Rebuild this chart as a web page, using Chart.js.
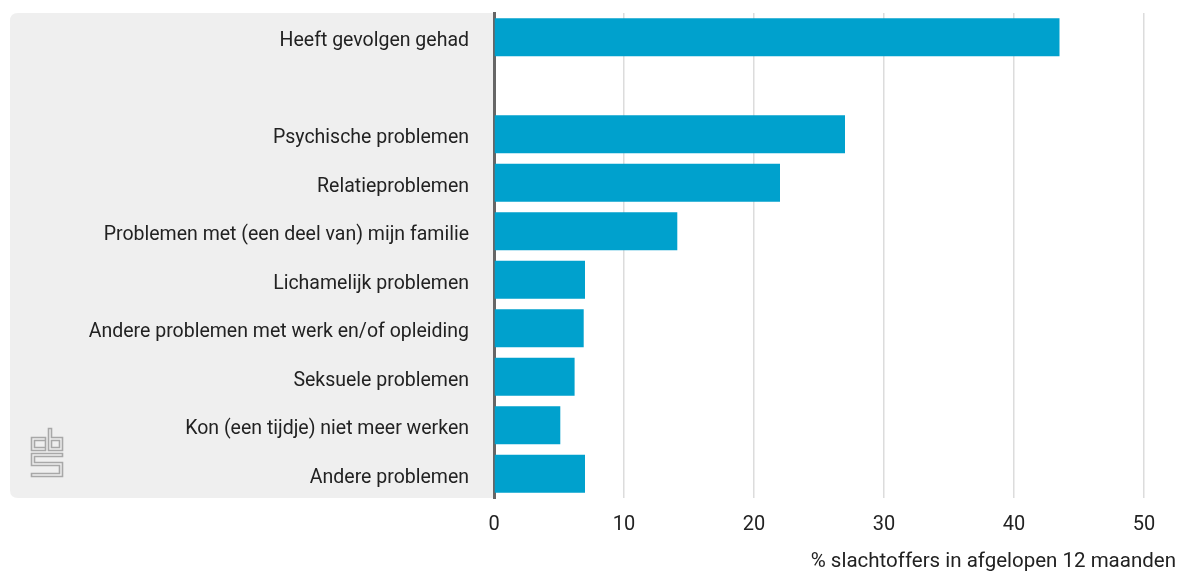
<!DOCTYPE html>
<html>
<head>
<meta charset="utf-8">
<script src="https://cdn.jsdelivr.net/npm/chart.js@4/dist/chart.umd.min.js"></script>
<style>
html,body{margin:0;padding:0;background:#fff;}
#wrap{width:1178px;height:572px;position:relative;}
</style>
</head>
<body>
<div id="wrap"><canvas id="c" width="1178" height="572"></canvas></div>
<script>
const categories = [
  'Heeft gevolgen gehad',
  '',
  'Psychische problemen',
  'Relatieproblemen',
  'Problemen met (een deel van) mijn familie',
  'Lichamelijk problemen',
  'Andere problemen met werk en/of opleiding',
  'Seksuele problemen',
  'Kon (een tijdje) niet meer werken',
  'Andere problemen'
];
const values = [43.5, null, 27.0, 22.0, 14.1, 7.0, 6.9, 6.2, 5.1, 7.0];
const xTicks = [0, 10, 20, 30, 40, 50];
const xTitle = '% slachtoffers in afgelopen 12 maanden';

const FONT = 'Roboto, sans-serif';

const panelPlugin = {
  id: 'panel',
  beforeDraw(chart) {
    const ctx = chart.ctx, a = chart.chartArea;
    const x0 = 10, x1 = a.left, y0 = a.top, y1 = a.bottom, r = 8;
    ctx.save();
    ctx.fillStyle = '#efefef';
    ctx.beginPath();
    ctx.moveTo(x0 + r, y0);
    ctx.lineTo(x1, y0);
    ctx.lineTo(x1, y1);
    ctx.lineTo(x0 + r, y1);
    ctx.quadraticCurveTo(x0, y1, x0, y1 - r);
    ctx.lineTo(x0, y0 + r);
    ctx.quadraticCurveTo(x0, y0, x0 + r, y0);
    ctx.closePath();
    ctx.fill();
    // CBS logo (simplified)
    ctx.strokeStyle = '#a8a8a8';
    ctx.lineWidth = 1.6;
    const L = 31, T = 428;
    ctx.beginPath();
    ctx.rect(L + 0.5, T + 9.5, 14, 13);
    ctx.rect(L + 3.5, T + 12.5, 11, 7);
    ctx.moveTo(L + 17.5, T + 0.5); ctx.lineTo(L + 17.5, T + 22.5); ctx.lineTo(L + 31.5, T + 22.5);
    ctx.lineTo(L + 31.5, T + 9.5); ctx.lineTo(L + 20.5, T + 9.5); ctx.lineTo(L + 20.5, T + 0.5); ctx.closePath();
    ctx.rect(L + 20.5, T + 12.5, 8, 7);
    ctx.moveTo(L + 31.5, T + 25.5); ctx.lineTo(L + 0.5, T + 25.5); ctx.lineTo(L + 0.5, T + 37.5);
    ctx.lineTo(L + 28.5, T + 37.5); ctx.lineTo(L + 28.5, T + 45.5); ctx.lineTo(L + 0.5, T + 45.5);
    ctx.lineTo(L + 0.5, T + 48.5); ctx.lineTo(L + 31.5, T + 48.5); ctx.lineTo(L + 31.5, T + 34.5);
    ctx.lineTo(L + 3.5, T + 34.5); ctx.lineTo(L + 3.5, T + 28.5); ctx.lineTo(L + 31.5, T + 28.5); ctx.closePath();
    ctx.stroke();
    ctx.restore();
  },
  afterDraw(chart) {
    const ctx = chart.ctx;
    ctx.save();
    ctx.font = '20.5px ' + FONT;
    ctx.fillStyle = '#222';
    ctx.textAlign = 'right';
    ctx.textBaseline = 'middle';
    ctx.fillText(xTitle, 1176, 562);
    ctx.restore();
  }
};

new Chart(document.getElementById('c'), {
  type: 'bar',
  data: {
    labels: categories,
    datasets: [{
      data: values,
      backgroundColor: '#00a1cd',
      borderWidth: 0,
      categoryPercentage: 1,
      barPercentage: 0.78
    }]
  },
  options: {
    indexAxis: 'y',
    responsive: false,
    animation: false,
    layout: { padding: { top: 13, right: 34, left: 0, bottom: 0 } },
    plugins: { legend: { display: false }, tooltip: { enabled: false } },
    scales: {
      x: {
        min: 0, max: 50,
        afterBuildTicks(s) { s.ticks = xTicks.map(v => ({ value: v })); },
        afterFit(s) { s.height = 74; s.paddingLeft = 0; s.paddingRight = 0; },
        grid: { color: ctx => ctx.tick && ctx.tick.value === 0 ? 'rgba(0,0,0,0)' : '#dcdcdc', lineWidth: 1.5, drawTicks: false },
        border: { display: false },
        ticks: { color: '#222', font: { size: 20, family: FONT }, padding: 15 }
      },
      y: {
        afterFit(s) { s.width = 494; s.paddingTop = 0; s.paddingBottom = 0; },
        grid: { display: false, drawTicks: false },
        border: { display: true, color: '#666', width: 3 },
        ticks: { color: '#222', font: { size: 19.5, family: FONT }, padding: 25, labelOffset: 4 }
      }
    }
  },
  plugins: [panelPlugin]
});
</script>
</body>
</html>
